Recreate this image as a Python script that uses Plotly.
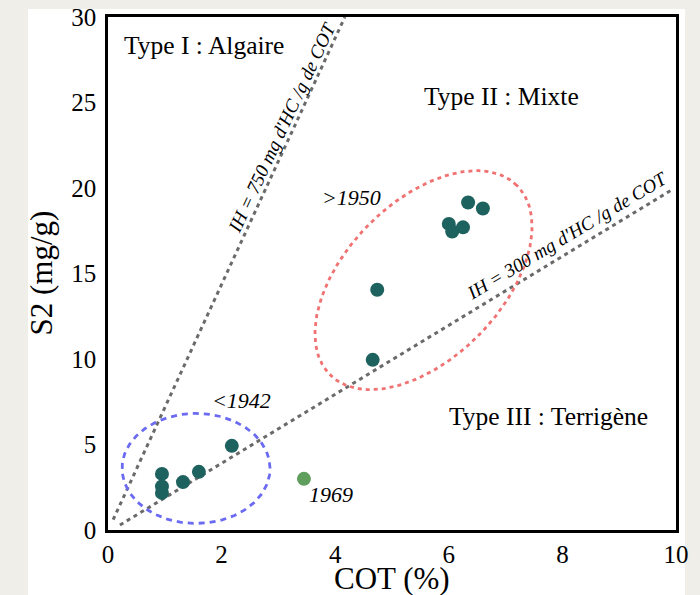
import numpy as np
import plotly.graph_objects as go

# ---------------- data ----------------
cot_teal = [0.95, 0.95, 0.95, 1.32, 1.60, 2.18, 4.66, 4.74, 6.00, 6.06, 6.25, 6.34, 6.60]
s2_teal = [3.28, 2.55, 2.17, 2.80, 3.40, 4.92, 9.95, 14.05, 17.90, 17.45, 17.70, 19.15, 18.80]
cot_1969 = [3.45]
s2_1969 = [2.99]

ih750_cot = [0.09, 4.17]
ih750_s2 = [0.60, 30.0]
ih300_cot = [0.21, 9.93]
ih300_s2 = [0.29, 19.9]

x_ticks = [0, 2, 4, 6, 8, 10]
y_ticks = [0, 5, 10, 15, 20, 25, 30]

# ---------------- layout geometry ----------------
W, H = 700, 595
ML, MR, MT, MB = 108, 24, 17, 65
PW, PH = W - ML - MR, H - MT - MB
KX = PW / 10.0   # px per COT unit
KY = PH / 30.0   # px per S2 unit

FONT = "Liberation Serif"


def ellipse(cx, cy, a_px, b_px, ang_deg, n=240):
    t = np.linspace(0, 2 * np.pi, n)
    th = np.radians(ang_deg)
    dx = a_px * np.cos(t) * np.cos(th) - b_px * np.sin(t) * np.sin(th)
    dy = a_px * np.cos(t) * np.sin(th) + b_px * np.sin(t) * np.cos(th)
    return cx + dx / KX, cy + dy / KY


fig = go.Figure()

fig.add_trace(go.Scatter(x=ih750_cot, y=ih750_s2, mode="lines",
                         line=dict(color="#6a6a6a", width=3, dash="4px,4px"),
                         hoverinfo="skip", showlegend=False))
fig.add_trace(go.Scatter(x=ih300_cot, y=ih300_s2, mode="lines",
                         line=dict(color="#6a6a6a", width=3, dash="4px,4px"),
                         hoverinfo="skip", showlegend=False))

ex, ey = ellipse(5.555, 14.61, 133, 78, 45.5)
fig.add_trace(go.Scatter(x=ex, y=ey, mode="lines",
                         line=dict(color="#f07272", width=2.8, dash="4px,4px"),
                         hoverinfo="skip", showlegend=False))
bx, by = ellipse(1.55, 3.60, 74, 55, 0)
fig.add_trace(go.Scatter(x=bx, y=by, mode="lines",
                         line=dict(color="#6a6af2", width=2.8, dash="6px,5px"),
                         hoverinfo="skip", showlegend=False))

fig.add_trace(go.Scatter(x=cot_teal, y=s2_teal, mode="markers",
                         marker=dict(color="#1e625f", size=14),
                         showlegend=False))
fig.add_trace(go.Scatter(x=cot_1969, y=s2_1969, mode="markers",
                         marker=dict(color="#5f9e5d", size=14),
                         showlegend=False))

ann = []
def txt(x, y, s, size, italic=False, angle=0, xanchor="center"):
    ann.append(dict(x=x, y=y, xref="x", yref="y", text=s, showarrow=False,
                    textangle=angle, xanchor=xanchor, yanchor="middle",
                    font=dict(family=FONT, size=size, color="black",
                              style="italic" if italic else "normal")))

txt(0.246, 28.33, "Type I : Algaire", 25.5, xanchor="left")
txt(6.92, 25.35, "Type II : Mixte", 25.5)
txt(7.755, 6.61, "Type III : Terrigène", 25.5)
txt(4.28, 19.43, ">1950", 22, italic=True)
txt(2.35, 7.55, "<1942", 22, italic=True)
txt(3.92, 2.05, "1969", 22, italic=True)
txt(3.06, 23.53, "IH = 750 mg d'HC /g de COT", 19, italic=True, angle=-65)
txt(8.08, 17.21, "IH = 300 mg d'HC /g de COT", 19, italic=True, angle=-31)

# axis titles
ann.append(dict(x=(41 - ML) / PW, y=0.5, xref="paper", yref="paper",
                text="S2 (mg/g)", showarrow=False, textangle=-90,
                xanchor="center", yanchor="middle",
                font=dict(family=FONT, size=31, color="black")))
ann.append(dict(x=(392 - ML) / PW, y=(MT + PH - 578) / PH, xref="paper", yref="paper",
                text="COT (%)", showarrow=False,
                xanchor="center", yanchor="middle",
                font=dict(family=FONT, size=31, color="black")))

shapes = [dict(type="rect", xref="paper", yref="paper", layer="below",
               x0=(28 - ML) / PW, x1=(685 - ML) / PW,
               y0=(MT + PH - 600) / PH, y1=(MT + PH - 9) / PH,
               fillcolor="white", line=dict(width=0))]

fig.update_layout(
    width=W, height=H,
    margin=dict(l=ML, r=MR, t=MT, b=MB, pad=0, autoexpand=False),
    paper_bgcolor="#f0eee8",
    plot_bgcolor="rgba(0,0,0,0)",
    showlegend=False,
    annotations=ann,
    shapes=shapes,
    font=dict(family=FONT, color="black"),
)
fig.update_xaxes(range=[0, 10], tickvals=x_ticks, ticktext=[str(v) for v in x_ticks],
                 showgrid=False, zeroline=False, showline=True, linecolor="black",
                 linewidth=2.5, mirror=True, ticks="", ticklabelstandoff=0,
                 automargin=False,
                 tickfont=dict(family=FONT, size=25, color="black"))
fig.update_yaxes(range=[0, 30], tickvals=y_ticks, ticktext=[str(v) for v in y_ticks],
                 showgrid=False, zeroline=False, showline=True, linecolor="black",
                 linewidth=2.5, mirror=True, ticks="", ticklabelstandoff=4,
                 automargin=False,
                 tickfont=dict(family=FONT, size=25, color="black"))

fig.write_html("out.html",
               config={"displayModeBar": False},
               post_script="document.body.style.margin='0';document.body.style.overflow='hidden';")
